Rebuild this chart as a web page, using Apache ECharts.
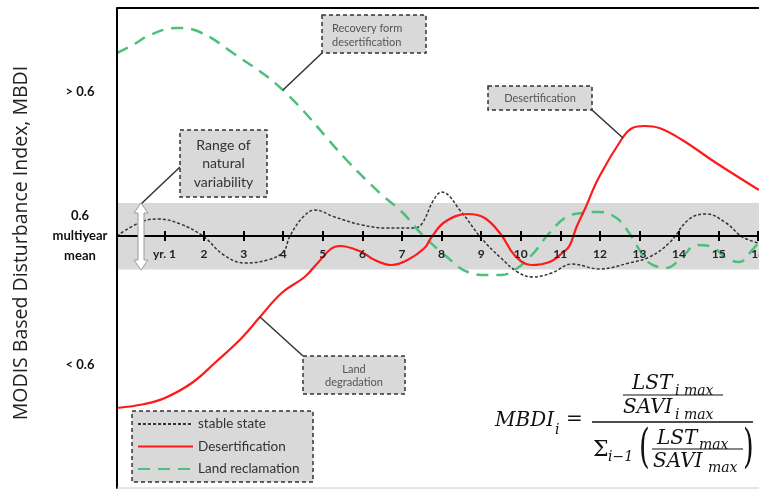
<!DOCTYPE html>
<html><head><meta charset="utf-8">
<script src="https://cdn.jsdelivr.net/npm/echarts@6/dist/echarts.min.js"></script>
<style>html,body{margin:0;padding:0;background:#fff}#c{width:759px;height:489px}</style>
</head><body><div id="c"></div>
<script>
// ---- data (x in years, y in index units relative to multiyear mean) ----
const yearTicks = [1,2,3,4,5,6,7,8,9,10,11,12,13,14,15,16];
const yearLabels = ['yr. 1','2','3','4','5','6','7','8','9','10','11','12','13','14','15','16'];
const yLevelValues = [14.4, 0, -12.9];
const yLevelLabels = ['> 0.6', '0.6\nmultiyear\nmean', '< 0.6'];
const bandRange = [3.3, -3.35];

const stableState = [
  [-0.2,0],[0.4,1.4],[0.85,1.7],[1.4,1.2],[1.97,0],[2.5,-1.9],[3.03,-2.7],[3.6,-2.4],[4.0,-1.6],
  [4.17,0],[4.5,1.9],[4.8,2.6],[5.3,1.9],[6.0,1.1],[6.6,0.8],[7.3,0.8],[7.5,1.2],
  [7.8,3.6],[8.0,4.4],[8.5,2.4],[9.0,-0.2],[9.5,-2.2],[9.92,-3.6],[10.3,-4.1],[10.78,-3.7],
  [11.3,-2.8],[11.99,-3.3],[12.74,-2.7],[13.25,-2.1],[13.75,-0.7],[14.26,1.7],[14.69,2.2],
  [15.19,1.3],[15.6,-0.1],[16.02,-0.7]
];
const desertification = [
  [-0.2,-17.2],[0.5,-16.8],[1.01,-16.2],[1.69,-14.7],[2.27,-12.7],[2.95,-10.2],[3.41,-8.1],
  [3.96,-5.7],[4.54,-4.1],[4.87,-2.7],[5.2,-1.3],[5.43,-1.0],[5.98,-1.6],[6.31,-2.4],[6.74,-2.9],
  [7.14,-2.4],[7.57,-1.2],[7.75,-0.1],[8.08,1.4],[8.66,2.2],[9.09,1.8],[9.51,0.1],[9.84,-1.9],
  [10.27,-2.9],[10.73,-2.6],[11.05,-1.7],[11.23,-1.0],[11.41,0.9],[11.61,2.6],[11.98,5.9],
  [12.57,9.8],[12.82,10.8],[13.12,11.0],[13.5,10.8],[14.08,9.6],[14.94,7.3],[16.02,4.6]
];
const landReclamation = [
  [-0.2,18.3],[0.2,19.1],[0.63,20.1],[1.31,20.8],[1.89,20.4],[2.73,18.3],[3.99,14.6],
  [5.6,7.6],[6.44,4.3],[7.0,2.4],[7.52,0.1],[8.08,-1.9],[8.66,-3.6],[9.21,-3.9],[9.51,-3.9],
  [9.92,-3.2],[10.35,-1.6],[10.68,0.1],[11.15,1.9],[11.56,2.3],[11.99,2.4],[12.42,1.8],
  [12.74,0.3],[13.0,-1.4],[13.25,-2.7],[13.68,-3.2],[14.08,-2.1],[14.44,-0.9],[14.84,-1.1],
  [15.19,-2.2],[15.52,-2.6],[15.85,-1.4],[16.02,-0.6]
];

// ---- chart ----
const chart = echarts.init(document.getElementById('c'), null, {renderer:'canvas'});
const boxStyle = {fill:'#d9d9d9', stroke:'#333', lineWidth:1.5, lineDash:[4,3]};
const leader = {stroke:'#333', lineWidth:1.5};
const calloutFont = '11px Lato';
const fmlFont = 'italic 20px "DejaVu Serif"';
const subFont = 'italic 14px "DejaVu Serif"';
function txt(x, y, text, font, align, fill, z) {
  return {type:'text', x:x, y:y, z:z||20, silent:true,
    style:{text:text, font:font, fill:fill||'#111', align:align||'left', verticalAlign:'middle'}};
}
function ln(x1,y1,x2,y2,style,z){
  return {type:'line', z:z||20, silent:true, shape:{x1:x1,y1:y1,x2:x2,y2:y2}, style:style};
}
function box(x,y,w,h,z){
  return {type:'rect', z:z||20, silent:true, shape:{x:x,y:y,width:w,height:h}, style:boxStyle};
}

const graphics = [
  ln(117,8,759,8,{stroke:'#000',lineWidth:2},30),
  ln(117,488,759,488,{stroke:'#ccc',lineWidth:1},30),
  {type:'text', x:21, y:243, rotation:Math.PI/2, silent:true, z:20,
   style:{text:'MODIS Based Disturbance Index, MBDI', font:'19.5px "Open Sans"', fill:'#222',
          align:'center', verticalAlign:'middle'}},
  {type:'polygon', z:25, silent:true, shape:{points:[[141,203],[148,213],[144,213],[144,260],[148,260],[141,270],[134,260],[138,260],[138,213],[134,213]]},
   style:{fill:'#fff', stroke:'#9a9a9a', lineWidth:1}},
  ln(180,167,141,204,leader,24),
  box(180,130,87,67,24),
  txt(223.5,145,'Range of','14px Lato','center','#333',26),
  txt(223.5,163,'natural','14px Lato','center','#333',26),
  txt(223.5,182,'variability','14px Lato','center','#333',26),
  ln(322,53,283,90,leader,24),
  box(322,15,104,38,24),
  txt(332,28,'Recovery form',calloutFont,'left','#555',26),
  txt(332,42,'desertification',calloutFont,'left','#555',26),
  ln(592,110,623,138,leader,24),
  box(488,86,104,24,24),
  txt(540,98,'Desertification',calloutFont,'center','#555',26),
  ln(303,356,260,317,leader,24),
  box(303,356,102,38,24),
  txt(354,369,'Land',calloutFont,'center','#555',26),
  txt(354,382,'degradation',calloutFont,'center','#555',26),
  box(132,411,181,71,8),
  txt(495,421,'MBDI',fmlFont,'left','#111',26),
  txt(555,430,'i',subFont,'left','#111',26),
  txt(566,420,'=', '20px "DejaVu Serif"','left','#111',26),
  ln(592,422,753,422,{stroke:'#111',lineWidth:1.3},26),
  txt(632,384,'LST',fmlFont,'left','#111',26),
  txt(675,391,'i max',subFont,'left','#111',26),
  ln(623,395,723,395,{stroke:'#111',lineWidth:1.1},26),
  txt(623,408,'SAVI',fmlFont,'left','#111',26),
  txt(675,415,'i max',subFont,'left','#111',26),
  txt(593,450,'\u03A3','22px "DejaVu Serif"','left','#111',26),
  txt(608,457,'i\u22121',subFont,'left','#111',26),
  {type:'text', x:639, y:450, z:26, silent:true, scaleX:0.6,
   style:{text:'(', font:'46px "DejaVu Serif"', fill:'#111', align:'left', verticalAlign:'middle'}},
  {type:'text', x:743, y:450, z:26, silent:true, scaleX:0.6,
   style:{text:')', font:'46px "DejaVu Serif"', fill:'#111', align:'left', verticalAlign:'middle'}},
  txt(657,439,'LST',fmlFont,'left','#111',26),
  txt(699,445,'max',subFont,'left','#111',26),
  ln(652,449,743,449,{stroke:'#111',lineWidth:1.1},26),
  txt(653,462,'SAVI',fmlFont,'left','#111',26),
  txt(708,468,'max',subFont,'left','#111',26)
];

const Y_MIN = -25.2, Y_MAX = 22.8, GRID_TOP = 8, GRID_H = 480;
// distance (px) from grid bottom up to the y=0 "multiyear mean" line
const zeroOffset = -GRID_H * (0 - Y_MIN) / (Y_MAX - Y_MIN);
const xCommon = {type:'value', min:-0.2, max:16.02, splitLine:{show:false}, gridIndex:0,
  position:'bottom', offset:zeroOffset, z:10};

chart.setOption({
  animation:false,
  backgroundColor:'#fff',
  grid:{left:117, top:GRID_TOP, right:0, height:GRID_H, containLabel:false, outerBoundsMode:'none'},
  xAxis:[
    Object.assign({}, xCommon, {
      axisLine:{show:true, onZero:false, lineStyle:{color:'#000', width:2}},
      axisTick:{show:true, inside:false, length:5, lineStyle:{color:'#000', width:2}, customValues:yearTicks},
      axisLabel:{show:true, customValues:yearTicks, margin:12, color:'#222',
        fontFamily:'Lato', fontWeight:'bold', fontSize:12,
        formatter:function(v){ const i = yearTicks.indexOf(Math.round(v)); return i>=0 ? yearLabels[i] : ''; }}}),
    Object.assign({}, xCommon, {
      axisLine:{show:false, onZero:false},
      axisTick:{show:true, inside:true, length:5, lineStyle:{color:'#000', width:2}, customValues:yearTicks},
      axisLabel:{show:false}})
  ],
  yAxis:{type:'value', min:Y_MIN, max:Y_MAX, splitLine:{show:false}, axisTick:{show:false}, z:10,
      axisLine:{show:true, onZero:false, lineStyle:{color:'#000', width:2}},
      axisLabel:{show:true, customValues:yLevelValues, margin:37, align:'center',
        color:'#111', fontFamily:'Lato', fontWeight:'bold', fontSize:13, lineHeight:20,
        formatter:function(v){ const i = yLevelValues.findIndex(function(t){return Math.abs(t-v)<1e-6;}); return i>=0 ? yLevelLabels[i] : ''; }}},
  legend:{orient:'vertical', left:137, top:417, padding:0, itemGap:8.5, itemWidth:55, itemHeight:14,
    z:10, textStyle:{fontFamily:'Lato', fontSize:13.5, color:'#333'}, itemStyle:{opacity:0},
    data:['stable state','Desertification','Land reclamation']},
  graphic:graphics,
  series:[
    {type:'line', name:'stable state', data:stableState, smooth:0.4, symbol:'none', z:3,
     lineStyle:{color:'#333', width:1.5, type:[3,2]}, itemStyle:{color:'#333'}},
    {type:'line', name:'Desertification', data:desertification, smooth:0.4, symbol:'none', z:4,
     lineStyle:{color:'#ff1a1a', width:2.2}, itemStyle:{color:'#ff1a1a'}},
    {type:'line', name:'Land reclamation', data:landReclamation, smooth:0.4, symbol:'none', z:3,
     lineStyle:{color:'#4dbf7c', width:2.5, type:[12,8]}, itemStyle:{color:'#4dbf7c'}}
  ]
});

// grey "range of natural variability" band from the y scale
const pTop = chart.convertToPixel({gridIndex:0}, [-0.2, bandRange[0]]);
const pBot = chart.convertToPixel({gridIndex:0}, [16.02, bandRange[1]]);
chart.setOption({graphic:[{type:'rect', id:'band', z:0, silent:true,
  shape:{x:pTop[0], y:pTop[1], width:pBot[0]-pTop[0], height:pBot[1]-pTop[1]},
  style:{fill:'#d9d9d9'}}]});
</script></body></html>
